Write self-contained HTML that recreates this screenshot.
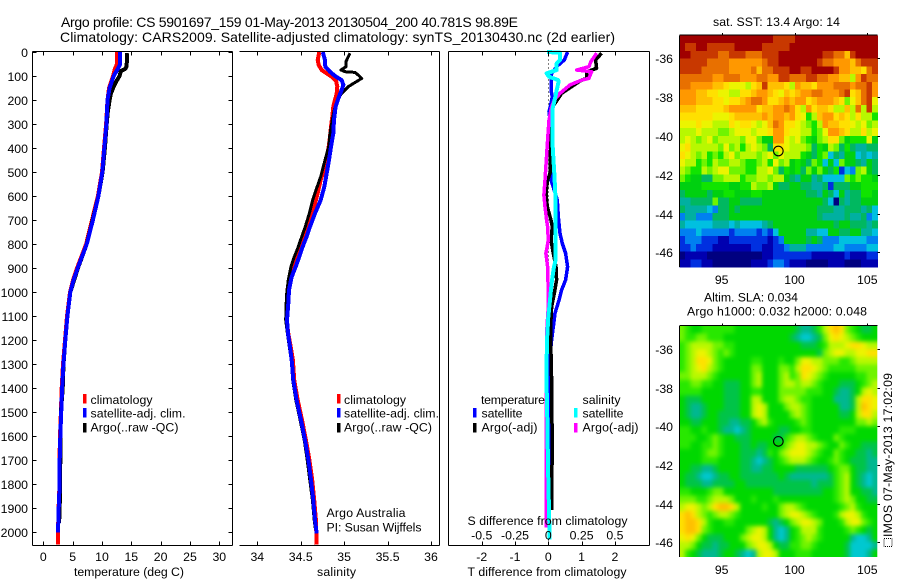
<!DOCTYPE html>
<html lang="en">
<head>
<meta charset="utf-8">
<title>Argo profile CS 5901697_159</title>
<style>
html,body{margin:0;padding:0;background:#fff;width:900px;height:580px;overflow:hidden}
svg{display:block}
text{font-family:"Liberation Sans",sans-serif;font-size:12.3px;fill:#000}
.ttl{font-size:14px}
</style>
</head>
<body>
<svg id="fig" xmlns="http://www.w3.org/2000/svg" width="900" height="580" viewBox="0 0 900 580">
  <defs>
    <filter id="smooth" x="-5%" y="-5%" width="110%" height="110%" color-interpolation-filters="sRGB">
      <feGaussianBlur stdDeviation="2.2"/>
      <feComponentTransfer><feFuncA type="linear" slope="100"/></feComponentTransfer>
    </filter>
    <clipPath id="slaClip"><rect x="679.3" y="326" width="198" height="231"/></clipPath>
  </defs>
  <rect x="0" y="0" width="900" height="580" fill="#fff"/>
  <text class="ttl" x="61" y="27" textLength="457" lengthAdjust="spacing">Argo profile: CS 5901697_159 01-May-2013 20130504_200  40.781S 98.89E</text>
  <text class="ttl" x="60" y="42" textLength="555" lengthAdjust="spacing">Climatology: CARS2009. Satellite-adjusted climatology: synTS_20130430.nc (2d earlier)</text>

  <g id="p1"></g>
  <g id="p2"></g>
  <g id="p3"></g>
  <g id="m1"></g>
  <g id="m2"></g>

  <g shape-rendering="crispEdges">
    <rect x="83" y="394" width="3.5" height="9.5" fill="#f00"/>
    <rect x="83" y="408" width="3.5" height="9.5" fill="#00f"/>
    <rect x="83" y="423" width="3.5" height="9.5" fill="#000"/>
  </g>
  <text x="90.5" y="404" textLength="62" lengthAdjust="spacing">climatology</text>
  <text x="90.5" y="417.5" textLength="95" lengthAdjust="spacing">satellite-adj. clim.</text>
  <text x="90.5" y="431.5" textLength="88" lengthAdjust="spacing">Argo(..raw -QC)</text>

  <g shape-rendering="crispEdges">
    <rect x="337" y="394" width="3.5" height="9.5" fill="#f00"/>
    <rect x="337" y="408" width="3.5" height="9.5" fill="#00f"/>
    <rect x="337" y="423" width="3.5" height="9.5" fill="#000"/>
  </g>
  <text x="344" y="404" textLength="62" lengthAdjust="spacing">climatology</text>
  <text x="344" y="417.5" textLength="95" lengthAdjust="spacing">satellite-adj. clim.</text>
  <text x="344" y="431.5" textLength="88" lengthAdjust="spacing">Argo(..raw -QC)</text>
  <text x="326.5" y="517" textLength="79" lengthAdjust="spacing">Argo Australia</text>
  <text x="326.5" y="531.5" textLength="95" lengthAdjust="spacing">PI: Susan Wijffels</text>

  <g shape-rendering="crispEdges">
    <rect x="473" y="408" width="3.5" height="9.5" fill="#00f"/>
    <rect x="473" y="423" width="3.5" height="9.5" fill="#000"/>
    <rect x="574" y="408" width="3.5" height="9.5" fill="#0ff"/>
    <rect x="574" y="423" width="3.5" height="9.5" fill="#f0f"/>
  </g>
  <text x="481" y="404" textLength="64" lengthAdjust="spacing">temperature</text>
  <text x="481.5" y="417.5" textLength="41" lengthAdjust="spacing">satellite</text>
  <text x="481.5" y="431.5" textLength="56" lengthAdjust="spacing">Argo(-adj)</text>
  <text x="582.5" y="404" textLength="38" lengthAdjust="spacing">salinity</text>
  <text x="582.5" y="417.5" textLength="41" lengthAdjust="spacing">satellite</text>
  <text x="582.5" y="431.5" textLength="56" lengthAdjust="spacing">Argo(-adj)</text>

  <text x="74" y="576" textLength="110" lengthAdjust="spacing">temperature (deg C)</text>
  <text x="317" y="576" textLength="39" lengthAdjust="spacing">salinity</text>
  <text x="467.5" y="576" textLength="159" lengthAdjust="spacing">T difference from climatology</text>
  <text x="467.5" y="525" textLength="160" lengthAdjust="spacing">S difference from climatology</text>

  <text x="713" y="26" textLength="127" lengthAdjust="spacing">sat. SST: 13.4  Argo: 14</text>
  <text x="704" y="301.5" textLength="94" lengthAdjust="spacing">Altim. SLA: 0.034</text>
  <text x="687" y="315.5" textLength="180" lengthAdjust="spacing">Argo h1000: 0.032 h2000: 0.048</text>

  <rect x="884" y="538.5" width="8" height="8" fill="none" stroke="#000" stroke-width="1" stroke-dasharray="1 1" shape-rendering="crispEdges"/>
  <text transform="translate(892,537) rotate(-90)" textLength="164" lengthAdjust="spacing">IMOS 07-May-2013 17:02:09</text>
</svg>
<script>
// ---- Tick labels ----
var depthTicks = [0,100,200,300,400,500,600,700,800,900,1000,1100,1200,1300,1400,1500,1600,1700,1800,1900,2000];
var tempTicks = [0,5,10,15,20,25,30];
var salTicks = [34,34.5,35,35.5,36];
var tDiffTicks = [-2,-1,0,1,2];
var sDiffTicks = [-0.5,-0.25,0,0.25,0.5];
var lonTicks = [95,100,105];
var latTicks = [-36,-38,-40,-42,-44,-46];

// ---- Temperature profiles ----
var tempClimDepth = [0,50,70,100,150,200,300,400,500,600,700,800,900,950,1000,1100,1200,1300,1400,1500,1600,1700,1800,1900,2000,2050];
var tempClim = [12.56,12.56,12.2,11.9,11.2,10.94,10.7,10.35,10.0,9.3,8.3,7.3,5.75,5.06,4.55,4.04,3.7,3.36,3.14,3.0,2.85,2.76,2.76,2.6,2.5,2.5];
var tempSatDepth = [0,50,70,100,150,200,300,400,500,600,700,800,900,950,1000,1100,1200,1300,1400,1500,1600,1700,1800,1900,2000];
var tempSat = [13.1,13.1,12.7,12.0,11.3,10.95,10.75,10.4,10.05,9.4,8.45,7.4,5.85,5.15,4.6,4.1,3.75,3.42,3.2,3.05,2.9,2.8,2.78,2.62,2.5];
var tempArgoDepth = [5,60,70,80,100,120,150,175,200,250,300,400,500,600,700,800,900,1000,1100,1200,1300,1400,1500,1600,1700,1800,1900,1960];
var tempArgo = [14.3,14.2,14.0,13.2,13.0,12.5,11.9,11.5,11.3,11.0,10.8,10.5,10.1,9.4,8.4,7.4,5.9,4.6,4.1,3.75,3.45,3.3,3.0,2.95,2.9,2.85,2.8,2.7];

// ---- Salinity profiles ----
var salClimDepth = [0,33,54,75,89,103,119,144,172,200,228,269,311,353,394,436,491,533,575,616,672,727,769,811,852,894,936,991,1061,1116,1172,1227,1283,1366,1449,1532,1615,1698,1782,1865,1948,2051];
var salClim = [34.714,34.695,34.707,34.741,34.799,34.856,34.906,34.921,34.914,34.895,34.875,34.864,34.849,34.837,34.822,34.803,34.768,34.73,34.703,34.676,34.626,34.576,34.53,34.492,34.453,34.407,34.377,34.346,34.338,34.338,34.357,34.384,34.41,34.425,34.465,34.515,34.56,34.6,34.632,34.655,34.675,34.684];
var salSatDepth = [0,33,61,82,100,117,137,158,186,228,283,339,394,450,505,561,616,672,727,769,811,852,894,936,991,1047,1116,1172,1227,1283,1366,1449,1532,1615,1698,1782,1865,1948,2004];
var salSat = [34.753,34.78,34.783,34.837,34.895,34.971,34.991,34.971,34.941,34.902,34.883,34.875,34.849,34.826,34.799,34.772,34.73,34.664,34.607,34.568,34.522,34.484,34.442,34.396,34.365,34.357,34.342,34.353,34.377,34.396,34.415,34.453,34.503,34.549,34.588,34.618,34.645,34.664,34.684];
var salArgoDepth = [5,19,40,61,75,82,85,96,110,123,144,172,200,241,283,339,394,450,519,575,616,672,727,769,811,852,894,949,1005,1061,1116,1172,1227,1283,1366,1449,1532,1615,1698,1782,1865,1948,1990];
var salArgo = [35.067,35.048,35.021,35.021,34.964,35.01,35.125,35.163,35.202,35.144,35.048,34.971,34.921,34.887,34.864,34.837,34.822,34.78,34.73,34.676,34.638,34.599,34.553,34.511,34.472,34.426,34.388,34.357,34.338,34.33,34.327,34.346,34.369,34.392,34.408,34.443,34.493,34.54,34.575,34.605,34.635,34.655,34.67];

// ---- Difference profiles ----
var tDiffSatDepth = [0,33,61,89,117,158,186,214,249,283,366,450,533,616,685,755,797,838,894,949,991,1033,1088,1144,1199,1255,1366,1600,2000];
var tDiffSat = [0.58,0.48,0.25,0.10,0.08,0.08,0.12,0.08,0.02,0.05,0.08,0.06,0.08,0.27,0.30,0.35,0.42,0.52,0.58,0.52,0.40,0.32,0.20,0.15,0.10,0.06,0.03,0.05,0.03];
var tDiffArgoDepth = [5,33,68,82,110,117,144,172,193,214,235,283,366,450,505,533,589,644,700,727,783,838,894,949,1005,1061,1144,1199,1255,1366,1449,1615,1865,1907];
var tDiffArgo = [1.6,1.42,1.45,1.15,1.15,1.0,0.7,0.4,0.3,0.2,0.1,0.08,0.08,0.05,0.05,-0.02,-0.07,-0.03,0.08,0.12,0.08,0.15,0.23,0.25,0.18,0.1,0.07,0.07,0.08,0.1,0.1,0.12,0.1,0.1];
var sDiffArgoDepth = [5,40,61,75,82,110,117,137,172,200,228,283,366,450,533,596,644,700,727,783,810,838,894,1005,1061,1144,1449,1615,1865,1980];
var sDiffArgo = [0.363,0.32,0.305,0.213,0.325,0.305,0.25,0.163,0.088,0.045,0.025,0.005,-0.005,-0.015,-0.025,-0.033,-0.025,-0.013,-0.005,0,-0.008,-0.018,-0.005,0,0,-0.01,-0.015,-0.016,-0.016,-0.016];
var sDiffSatDepth = [0,3,33,47,75,89,103,117,130,158,193,241,366,505,616,866,894,963,1033,1102,1199,1366,1449,1615,1782,1977,2030];
var sDiffSat = [-0.01,0.088,0.088,0.063,0.063,-0.013,0.005,0.075,0.075,0.063,0.05,0.03,0.03,0.045,0.055,0.055,0.043,0.025,0.013,0,-0.01,-0.015,-0.01,-0.005,0,0.008,0.008];

// ---- Colour levels and map cells (each letter is one estimated level, low a .. high r) ----
var levelColors = ['#000080','#0000b0','#0030e0','#0080f0','#00c0e0','#00b0a0','#00b860','#00d010','#10e400','#70f400','#b8f800','#ecf400','#ffe000','#ffc000','#ff9800','#e87000','#c83800','#a00000'];
var slaColors = ['#000080','#0000b0','#0030e0','#0080f0','#00c8d0','#00b890','#00c448','#00d800','#28e800','#70f400','#b8f800','#ecf400','#ffe000','#ffc000','#ff9800','#e87000','#c83800','#a00000'];
var sstRows = [
'rrrrrrrrrrrrrrrrrqqqqrrrrrrrrrrrrrrr',
'rqqrrqqqqqrrrrrqqqqqrrrrrrrrrrrrrrrr',
'rrqqqqqppqqqpppqqqrrrrrrrrqqppnqrrrr',
'qqqqqppppoooooopqqrrrrrrrqppooonpqqq',
'qqqqpppppoooopnppqqqrrqqrrrrqoonnmpq',
'ppppppoopppoooppooqqpppqqppoonnkoqpp',
'ppoooonnmlllkmnqnnnmkonnmooopppoppqo',
'ooonnmmllkkmmnoonmlnmnooppooopqmnpqo',
'ooonnnmmlmmnoppommnonoomnooonmjlnpql',
'nnnmmmmmnooooomnnoopomkomnnmkknkpkqk',
'mmmmmmlllmnnnnnonoonomliknoomnmkmkki',
'lllmllkkkmlmmlklnpommlkjikonnmmlkljk',
'kkklkkkjjklllkllmoomllkkijloonmkkmkl',
'klkjkljkkkkjlljhhoolkljihjkmmjhiiilh',
'lmkkkkkjljkiklkjgmmlkkkjgihkjgigffgg',
'mlkjkijikljkkkjkljlkkkihgijegfhhefef',
'lkkijikjjkkjiijkiljkhihgjiehejhhgfhg',
'kjiikjklljjjiikkljgihigjhjhgicedjkhg',
'jihhggjjkkkijjkkjkkhgfhhfgeeeejijiih',
'hhhhiiiiihhiikjjkhgghhggffgcggghhiii',
'ghhhhghhiihhhiihhhhhhhhggfhgehfggiih',
'ffggggjgghhgggghhhhhhhhhhhgeagfgghhh',
'gffffedgghghhhhhhhhhhhhhhgggffgggfge',
'dffdddggghhhhhhhhhhhhhhhhgffffgffgde',
'feeeeefffefeeeefghhhhhhhhhhhghhgggfg',
'dddedddddcddddcdcehhhhhffeehhgghhffe',
'cdddcccbbcccccccbcdhhhhghgdddeeeeedd',
'ccdcccbbbbbbbccbbccdfffdddddeeddddee',
'abbbbaaaaaaaaaabbcccccccbbbbbbcbbbcc',
'bbccbbaaaaaaabbbcddcbbbaaaabbbaaabbb'
];
var slaRows = [
'jihhiiiiiihhhhhhhhhhhgffgikmnmjihggh',
'jiijjiiihhhhhhhhhhhhgfeefgjlmlkjihhh',
'ijkkkkjjiihhhhhhhhhhhhggghikkklmmlkk',
'ijkllkjijihhhhhhhhhhhhhhhgjkllkkllmm',
'ijkmmljihhhhhiihhhihhjllkkjjjiijkkkk',
'ijklmkjihhhhhjjhhhjjikmmlkjiiiiijjjj',
'jjkkkjihhhhhhjkhhhjkijmlkjihhhhhiijj',
'iijjiihhggghhjkhhhjkkjkkjihhhggghijk',
'iiiihhhhggghhiihhhjjjjjiiihhgffghklk',
'hggghhhhggghhkkhhhjkkjiihhhhfffgkmml',
'hgffghhhggghhklkhhhjkkjihhhhhffgknml',
'hgffghhgggghhklkhhhhjkjihhhhhgghkmmk',
'hhgghhhggffgghjkihhhhijihhhhhhhhjjkj',
'iihhihhgffefghhhhhgghhiihhhhhiiihhhh',
'iiihhijihhggghhhhggijkkjihhhjihhhhhh',
'iihhiijihhhgghgghhhjkllkkjihhjihhggg',
'hhhhijjihhhgggfgihjklllkjihhjihhggfg',
'hhhhiiihhhhggfefghijkkkjihhijihgggff',
'hhggffghhhhggffgghhhhgggggghijjhggff',
'hggfeefgghhggggggghgfffffffgijkhgfef',
'hgggffgggghhggggggggggggfgggijkhgfef',
'iihhhijjhhhhhhhhhggggggggghhijkhhggf',
'jjjiijkkkjhhhihhhihhhhhhhhhhijkjhhgg',
'kllkjkmnnmkhhhhihhjkkjihhhhhhijkihhh',
'mnmkjijkkjihhhhhhhjkllkjihhhikllkihh',
'mnnmkihhiihhhhhhgfghjkllkjhhhiklljih',
'mnnmjihhhhhhjklkhfefhikkkihhhhijihgh',
'lmljhggghhhjkllkhfefhijkjihhhhhfeefh',
'kkjhggfgghhhjkllkhggiijjihhhhhgeeeef',
'kihgfffghhgfefkllkhhhiiihhhhhhgeeefh'
];
var circleLon = [98.89];
var circleLat = [-40.78];

// ---- Axis functions ----
function depthY(d){return 52+0.2402*d;}
function tempX(v){return 43.3+5.867*v;}
function salX(v){return 257.3+86.85*(v-34);}
function tDiffX(v){return 548.3+33.3*v;}
function sDiffX(v){return 548.3+133.2*v;}
function lonX(v){return 721.7+14.56*(v-95);}
function sstLatY(v){return 58.3-19.4*(v+36);}
function slaLatY(v){return 349-19.33*(v+36);}

var NS='http://www.w3.org/2000/svg';
function line(parent,x1,y1,x2,y2,name){
  var el=document.createElementNS(NS,'line');
  el.setAttribute('x1',x1);el.setAttribute('y1',y1);el.setAttribute('x2',x2);el.setAttribute('y2',y2);
  el.setAttribute('stroke','#000');el.setAttribute('stroke-width','1');el.setAttribute('shape-rendering','crispEdges');
  
  
  parent.appendChild(el);return el;
}
function label(parent,x,y,str,anchor,name){
  var el=document.createElementNS(NS,'text');
  el.setAttribute('x',x);el.setAttribute('y',y);el.setAttribute('text-anchor',anchor);
  el.textContent=str;
  
  
  parent.appendChild(el);return el;
}
function profile(parent,depths,vals,xf,color,w,name){
  var pts=[];
  for(var i=0;i<depths.length;i++){pts.push(xf(vals[i]).toFixed(1)+','+depthY(depths[i]).toFixed(1));}
  var el=document.createElementNS(NS,'polyline');
  el.setAttribute('points',pts.join(' '));
  el.setAttribute('fill','none');el.setAttribute('stroke',color);el.setAttribute('stroke-width',w);
  el.setAttribute('stroke-linejoin','round');el.setAttribute('shape-rendering','crispEdges');
  
  
  parent.appendChild(el);
}

// ---- Panel frames ----
var top_=51.5,bot=545.5,tick=4;
var p1=document.getElementById('p1'),p2=document.getElementById('p2'),p3=document.getElementById('p3');

// Temperature panel
profile(p1,tempClimDepth,tempClim,tempX,'#f00',4,'temperature-climatology-line');
profile(p1,tempArgoDepth,tempArgo,tempX,'#000',4,'temperature-argo-line');
profile(p1,tempSatDepth,tempSat,tempX,'#00f',4,'temperature-satellite-line');
line(p1,32.5,top_,232.5,top_,'temperature-top-axis');
line(p1,32.5,bot,232.5,bot,'temperature-x-axis');
line(p1,32.5,top_,32.5,bot,'depth-axis');
line(p1,232.5,top_,232.5,bot,'temperature-right-axis');
depthTicks.forEach(function(d){
  var y=Math.round(depthY(d))+0.5;
  line(p1,32.5,y,36.5,y,'depth-tick-left');
  line(p1,228.5,y,232.5,y,'depth-tick-right');
  label(p1,28,y+4.5,String(d),'end','depth-tick-label');
});
tempTicks.forEach(function(v){
  var x=Math.round(tempX(v))+0.5;
  line(p1,x,top_,x,top_+tick,'temperature-tick-top');
  line(p1,x,bot,x,bot-tick,'temperature-tick-bottom');
  label(p1,tempX(v),561,String(v),'middle','temperature-tick-label');
});

// Salinity panel
profile(p2,salClimDepth,salClim,salX,'#f00',4,'salinity-climatology-line');
profile(p2,salArgoDepth,salArgo,salX,'#000',3,'salinity-argo-line');
profile(p2,salSatDepth,salSat,salX,'#00f',4,'salinity-satellite-line');
line(p2,239.5,top_,439.5,top_,'salinity-top-axis');
line(p2,239.5,bot,439.5,bot,'salinity-x-axis');
line(p2,439.5,top_,439.5,bot,'salinity-right-axis');
salTicks.forEach(function(v){
  var x=Math.round(salX(v))+0.5;
  line(p2,x,top_,x,top_+tick,'salinity-tick-top');
  line(p2,x,bot,x,bot-tick,'salinity-tick-bottom');
  label(p2,salX(v),561,String(v),'middle','salinity-tick-label');
});

// Difference panel
var zero=document.createElementNS(NS,'line');
zero.setAttribute('x1','548.5');zero.setAttribute('y1',top_);zero.setAttribute('x2','548.5');zero.setAttribute('y2',bot);
zero.setAttribute('stroke','#000');zero.setAttribute('stroke-dasharray','1 3');zero.setAttribute('shape-rendering','crispEdges');


p3.appendChild(zero);
profile(p3,tDiffSatDepth,tDiffSat,tDiffX,'#00f',3.5,'t-difference-satellite-line');
profile(p3,tDiffArgoDepth,tDiffArgo,tDiffX,'#000',3.5,'t-difference-argo-line');
profile(p3,sDiffArgoDepth,sDiffArgo,sDiffX,'#f0f',3.5,'s-difference-argo-line');
profile(p3,sDiffSatDepth,sDiffSat,sDiffX,'#0ff',4,'s-difference-satellite-line');
line(p3,448.5,top_,649.5,top_,'difference-top-axis');
line(p3,448.5,bot,649.5,bot,'difference-x-axis');
line(p3,448.5,top_,448.5,bot,'difference-left-axis');
line(p3,649.5,top_,649.5,bot,'difference-right-axis');
tDiffTicks.forEach(function(v){
  var x=Math.round(tDiffX(v))+0.5;
  line(p3,x,top_,x,top_+tick,'t-difference-tick-top');
  line(p3,x,bot,x,bot-tick,'t-difference-tick-bottom');
  label(p3,tDiffX(v),561,String(v),'middle','t-difference-tick-label');
});
sDiffTicks.forEach(function(v){
  label(p3,sDiffX(v),539.5,String(v),'middle','s-difference-tick-label');
});

// ---- Maps ----
function drawMap(parent,rows,colors,latF,yTop,yBot,name,smooth){
  var xL=679.3,xR=877.3;
  var lon0=95+(xL-721.7)/14.56, dLon=(xR-xL)/14.56/36;
  var nRows=rows.length;
  var dLat=(yBot-yTop)/nRows;
  var holder=document.createElementNS(NS,'g');
  
  
  if(smooth){holder.setAttribute('clip-path','url(#slaClip)');}
  parent.appendChild(holder);
  var cells=document.createElementNS(NS,'g');
  cells.setAttribute('shape-rendering','crispEdges');
  if(smooth){cells.setAttribute('filter','url(#smooth)');}
  
  
  holder.appendChild(cells);
  for(var r=0;r<nRows;r++){
    for(var c=0;c<36;c++){
      var ch=rows[r][c]||rows[r][rows[r].length-1];
      var level=ch.charCodeAt(0)-97;
      var el=document.createElementNS(NS,'rect');
      el.setAttribute('x',lonX(lon0+c*dLon).toFixed(2));
      el.setAttribute('y',(yTop+r*dLat).toFixed(2));
      el.setAttribute('width',(dLon*14.56+0.6).toFixed(2));
      el.setAttribute('height',(dLat+0.6).toFixed(2));
      el.setAttribute('fill',colors[level]);
      
      
      cells.appendChild(el);
    }
  }
  line(parent,xL,yTop-.5,xR,yTop-.5,name+'-top-axis');
  line(parent,xL,yTop,xL,yBot,name+'-left-axis');
  lonTicks.forEach(function(v){
    var x=Math.round(lonX(v))+0.5;
    line(parent,x,yTop-2.5,x,yTop,name+'-lon-tick');
    label(parent,lonX(v),yBot+17,String(v),'middle',name+'-lon-label');
  });
  latTicks.forEach(function(v){
    var y=Math.round(latF(v))+0.5;
    line(parent,xR,y,xR+2.5,y,name+'-lat-tick');
    label(parent,673,y+4.5,String(v),'end',name+'-lat-label');
  });
  var mark=document.createElementNS(NS,'circle');
  mark.setAttribute('cx',lonX(circleLon[0]));
  mark.setAttribute('cy',latF(circleLat[0]));
  mark.setAttribute('r','4.8');
  mark.setAttribute('fill','none');
  mark.setAttribute('stroke','#000');
  mark.setAttribute('stroke-width','1.1');
  
  
  parent.appendChild(mark);
}
drawMap(document.getElementById('m1'),sstRows,levelColors,sstLatY,35.5,267,'sst-map',false);
drawMap(document.getElementById('m2'),slaRows,slaColors,slaLatY,326,557,'sla-map',true);
</script>
</body>
</html>
